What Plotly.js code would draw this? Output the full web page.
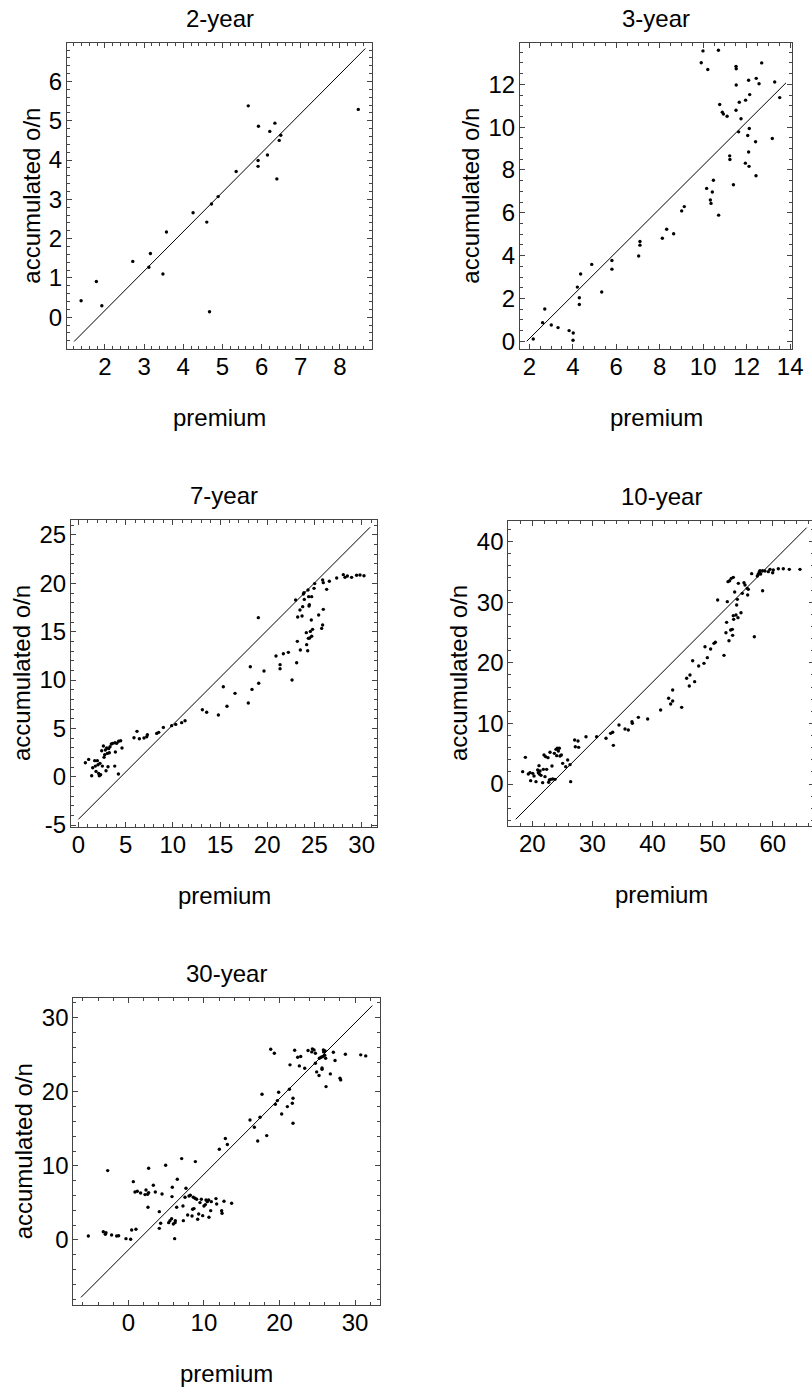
<!DOCTYPE html>
<html>
<head>
<meta charset="utf-8">
<script src="https://cdn.plot.ly/plotly-3.0.1.min.js"></script>
<style>
html,body{margin:0;padding:0;overflow:hidden;background:#fff;}
#chart{width:830px;height:1391px;}
</style>
</head>
<body>
<div id="chart"></div>
<script>
// ---------------- DATA ----------------
const titles = ['2-year', '3-year', '7-year', '10-year', '30-year'];
const xAxisLabel = 'premium';
const yAxisLabel = 'accumulated o/n';

// 2-year
const prem2 = [1.39,1.78,1.92,2.71,3.12,3.16,3.48,3.57,4.25,4.60,4.67,4.72,4.89,5.35,5.66,5.92,5.91,5.91,6.15,6.21,6.34,6.39,6.45,6.49,8.47];
const acc2  = [0.42,0.91,0.29,1.42,1.27,1.62,1.10,2.17,2.66,2.42,0.14,2.88,3.07,3.71,5.38,4.86,3.99,3.84,4.13,4.73,4.94,3.52,4.50,4.63,5.29];
const fit2x = [1.21, 8.65];
const fit2y = [-0.62, 6.84];

// 3-year
const prem3 = [2.18,2.61,2.71,3.01,3.32,3.83,4.02,4.01,4.21,4.30,4.30,4.36,4.87,5.33,5.80,5.80,7.03,7.09,7.09,8.12,8.32,8.64,9.01,9.13,9.91,9.99,10.21,10.16,10.33,10.36,10.42,10.47,10.70,10.71,10.76,10.88,10.93,11.10,11.22,11.23,11.39,11.51,11.52,11.52,11.51,11.63,11.66,11.74,11.95,11.94,12.05,12.09,12.09,12.11,12.12,12.14,12.41,12.43,12.44,12.57,12.69,13.18,13.29,13.52];
const acc3  = [0.11,0.87,1.51,0.76,0.64,0.50,0.39,0.05,2.53,2.03,1.72,3.14,3.59,2.30,3.77,3.37,3.98,4.49,4.66,4.81,5.23,5.02,6.09,6.29,13.01,13.56,12.69,7.14,6.60,6.44,6.97,7.52,13.59,5.89,11.06,10.70,10.61,10.51,8.66,8.49,7.31,12.84,12.73,11.97,10.79,9.78,11.16,10.39,11.26,8.32,9.61,12.19,8.84,8.17,9.94,11.52,9.32,7.73,12.28,12.03,13.00,9.47,12.11,11.38];
const fit3x = [1.88, 13.81];
const fit3y = [0.0, 12.07];

// 7-year
const prem7 = [0.74,1.09,1.41,1.52,1.73,1.80,1.87,2.01,2.08,2.15,2.22,2.29,2.36,2.47,2.54,2.65,2.72,2.79,2.86,2.93,3.00,3.07,3.14,3.21,3.28,3.35,3.49,3.64,3.85,3.88,3.92,4.06,4.24,4.27,4.48,4.62,5.89,6.21,6.46,6.95,7.24,7.31,8.30,8.51,9.00,9.88,10.31,10.94,11.30,13.13,13.59,14.83,15.35,15.74,16.59,18.00,18.21,18.39,19.06,19.10,19.66,20.93,21.36,21.36,21.71,22.24,22.63,23.01,23.12,23.19,23.23,23.47,23.51,23.69,23.76,23.83,23.90,23.93,24.14,24.18,24.29,24.32,24.39,24.43,24.36,24.46,24.50,24.57,24.67,24.71,24.71,24.81,24.96,25.03,25.45,25.77,25.87,25.94,25.87,25.94,26.30,26.58,27.36,28.06,28.24,28.49,28.94,29.47,29.83,30.25];
const acc7  = [1.45,1.79,0.10,0.93,1.66,1.10,0.55,1.66,1.24,0.34,0.10,1.38,0.21,2.69,1.10,3.17,2.00,2.28,2.76,0.62,2.97,2.41,1.03,2.90,2.48,3.10,3.38,3.45,1.10,3.52,2.55,3.45,0.28,3.66,3.72,2.97,4.03,4.69,3.93,4.00,4.14,4.34,4.48,4.59,5.10,5.28,5.41,5.59,5.79,6.93,6.66,6.38,9.31,7.28,8.62,7.62,11.38,9.03,16.45,9.66,10.93,12.48,11.59,11.17,12.72,12.86,10.00,18.28,11.79,14.00,16.52,17.24,13.10,16.62,17.59,18.90,19.03,18.34,14.90,13.66,13.03,19.31,18.62,17.66,14.31,17.79,14.34,15.03,16.21,14.52,18.62,15.24,19.48,19.97,16.72,15.34,15.69,17.31,20.34,20.07,19.38,20.21,20.55,20.90,20.62,20.76,20.62,20.83,20.86,20.79];
const fit7x = [0.0, 30.9];
const fit7y = [-4.41, 25.8];
const tickVals7y = [-5, 0, 5, 10, 15, 20, 25];
const tickText7y = ['-5', '0', '5', '10', '15', '20', '25'];

// 10-year
const prem10 = [18.39,18.84,19.33,19.61,19.72,20.06,20.28,20.61,20.89,21.00,21.11,21.16,21.28,21.44,21.72,21.83,21.94,22.11,22.22,22.38,22.61,22.72,22.83,22.94,23.05,23.27,23.38,23.66,23.77,23.94,24.05,24.16,24.33,24.49,24.60,24.83,25.05,25.55,25.88,26.27,26.38,27.04,27.15,27.60,27.71,28.93,30.70,32.26,33.03,33.37,33.48,34.42,35.42,35.97,36.58,36.64,37.64,39.19,41.35,42.68,43.02,43.35,43.35,44.85,45.68,46.23,46.12,46.68,47.01,47.68,48.56,48.73,49.12,49.67,50.23,50.45,50.84,51.89,52.22,52.33,52.44,52.56,52.72,52.83,53.00,53.11,53.33,53.44,53.28,53.44,53.50,53.67,53.89,54.00,54.11,54.28,54.22,54.72,54.94,55.22,55.39,55.77,55.83,55.94,56.50,56.94,57.44,57.60,57.77,57.88,57.99,58.32,58.32,58.71,59.27,59.55,59.99,60.10,60.93,61.76,62.76,64.54];
const acc10  = [2.04,4.40,1.65,1.87,0.55,1.76,1.32,0.39,2.31,1.87,3.03,1.65,2.15,1.43,0.22,2.42,4.79,1.21,4.51,2.42,4.35,0.28,0.66,5.23,0.77,2.97,0.83,5.06,0.77,5.72,4.68,5.89,5.45,5.89,4.62,4.79,3.41,2.86,3.96,3.19,0.39,7.26,6.16,7.10,6.05,7.81,7.81,7.54,8.36,8.53,6.38,9.74,9.08,8.91,10.29,10.01,11.00,10.73,12.21,14.14,13.20,13.70,15.51,12.65,17.44,17.99,16.17,20.35,16.89,19.47,19.91,22.66,20.85,22.28,23.21,23.38,30.36,21.23,24.97,26.68,30.09,33.39,23.65,33.55,25.41,33.94,24.53,34.10,25.52,27.78,27.17,31.68,27.89,29.54,30.47,33.11,27.45,28.27,31.46,33.22,32.84,32.29,31.19,32.12,34.71,24.31,34.32,34.65,34.98,35.20,34.65,31.90,35.20,35.15,35.04,35.42,34.87,35.31,35.53,35.53,35.42,35.42];
const fit10x = [17.23, 65.65];
const fit10y = [-5.83, 42.3];

// 30-year
const prem30 = [-5.29,-3.31,-3.04,-2.73,-2.96,-2.21,-1.54,-1.28,-0.31,0.31,0.44,0.66,1.01,0.88,1.19,1.63,2.21,2.34,2.56,2.69,2.60,2.69,3.31,3.57,4.10,4.28,4.10,4.46,4.94,5.34,5.51,5.73,5.78,5.82,5.96,6.13,6.18,6.22,6.40,6.48,7.06,7.23,7.28,7.50,7.63,7.85,8.03,8.20,8.43,8.51,8.60,8.69,8.82,8.87,9.04,9.18,9.31,9.48,9.66,9.84,10.01,10.19,10.28,10.45,10.63,10.67,10.90,10.98,11.60,11.69,12.35,12.40,12.04,12.66,12.84,13.10,13.67,16.10,16.67,17.12,17.42,17.69,18.31,18.84,19.32,19.45,19.72,19.89,20.29,21.04,21.31,21.39,21.70,21.79,21.79,22.01,22.41,22.63,22.81,23.34,23.78,24.27,24.35,24.57,24.75,24.75,24.92,25.23,25.28,25.50,25.63,25.63,25.72,25.81,25.85,25.98,26.03,26.11,26.16,26.73,27.13,27.35,28.01,28.10,28.72,30.75,31.41];
const acc30  = [0.54,1.12,0.76,9.36,0.99,0.67,0.54,0.58,0.18,0.09,1.35,7.87,1.44,6.48,6.57,6.34,6.12,6.75,6.16,6.39,4.41,9.67,7.38,6.48,3.82,2.25,1.57,6.21,10.08,2.34,2.61,2.88,5.85,7.11,2.16,0.18,2.34,2.61,4.41,8.19,10.98,4.59,2.61,5.76,6.97,3.37,5.94,6.03,3.24,4.14,5.76,4.23,5.62,10.57,5.49,2.79,3.51,5.04,5.49,3.28,4.59,4.77,5.40,5.17,5.40,3.06,3.96,5.17,5.58,4.86,3.96,3.60,12.24,5.22,13.68,12.87,4.95,16.19,15.20,13.36,16.55,19.66,14.08,25.73,25.19,18.31,18.80,19.93,17.00,17.99,20.33,23.62,18.44,19.12,15.74,25.60,24.65,23.48,24.74,23.17,25.55,25.37,25.78,25.64,25.19,23.84,22.67,22.18,24.52,24.65,23.21,23.03,24.74,25.64,25.37,24.92,25.51,24.52,20.69,22.40,25.33,24.20,21.82,21.59,25.06,24.97,24.83];
const fit30x = [-6.26, 32.29];
const fit30y = [-7.74, 31.62];

// ---------------- LAYOUT (pixel geometry) ----------------
const W = 830, H = 1391;
const FONT = 'Liberation Sans, Arial, Helvetica, sans-serif';
const FS = 24;
const frameColor = '#444';

const panels = [
  {x: prem2,  y: acc2,  fx: fit2x,  fy: fit2y,  px: [67, 372],    py: [43, 349],    xr: [1.03, 8.82],   yr: [-0.81, 6.98], xd: 1,  xm: 0.2, yd: 1, ym: 0.2, ylabX: 39},
  {x: prem3,  y: acc3,  fx: fit3x,  fy: fit3y,  px: [520, 792.3], py: [43, 349],    xr: [1.57, 14.1],   yr: [-0.36, 13.93], xd: 2, xm: 0.5, yd: 2, ym: 0.5, ylabX: 478},
  {x: prem7,  y: acc7,  fx: fit7x,  fy: fit7y,  px: [71, 377.3],  py: [520, 826.7], xr: [-0.78, 31.66], yr: [-5.17, 26.55], xd: 5, xm: 1, yd: 5, ym: 1, ylabX: 30, ytv: tickVals7y, ytt: tickText7y},
  {x: prem10, y: acc10, fx: fit10x, fy: fit10y, px: [508.3, 814], py: [520.7, 826], xr: [16.0, 66.87],  yr: [-6.93, 43.45], xd: 10, xm: 2, yd: 10, ym: 2, ylabX: 467},
  {x: prem30, y: acc30, fx: fit30x, fy: fit30y, px: [73.3, 380],  py: [998.3, 1305], xr: [-7.28, 33.3], yr: [-8.77, 32.6], xd: 10, xm: 2, yd: 10, ym: 2, ylabX: 32}
];

const data = [];
const layout = {
  width: W, height: H,
  margin: {l: 0, r: 0, t: 0, b: 0},
  paper_bgcolor: '#fff', plot_bgcolor: '#fff',
  showlegend: false,
  font: {family: FONT, size: FS, color: '#000'},
  annotations: []
};

panels.forEach((p, i) => {
  const n = i === 0 ? '' : String(i + 1);
  const xa = 'x' + n, ya = 'y' + n;
  data.push({
    x: p.fx, y: p.fy, xaxis: xa, yaxis: ya, type: 'scatter', mode: 'lines',
    line: {color: '#000', width: 1}, hoverinfo: 'skip'
  });
  data.push({
    x: p.x, y: p.y, xaxis: xa, yaxis: ya, type: 'scatter', mode: 'markers',
    marker: {color: '#000', size: 3.4, symbol: 'circle', line: {width: 0}}
  });
  const common = {
    showgrid: false, zeroline: false, showline: true, linecolor: frameColor, linewidth: 1,
    mirror: 'allticks', ticks: 'inside', ticklen: 5, tickwidth: 1, tickcolor: frameColor,
    tickfont: {family: FONT, size: FS, color: '#000'}, fixedrange: true
  };
  layout['xaxis' + n] = Object.assign({}, common, {
    domain: [p.px[0] / W, p.px[1] / W], anchor: ya, range: p.xr,
    tickmode: 'linear', tick0: 0, dtick: p.xd, ticklabelstandoff: -4,
    minor: {ticks: 'inside', ticklen: 3, tickcolor: frameColor, tickwidth: 1, tick0: 0, dtick: p.xm, showgrid: false}
  });
  const yax = Object.assign({}, common, {
    domain: [1 - p.py[1] / H, 1 - p.py[0] / H], anchor: xa, range: p.yr,
    ticklabelstandoff: -1,
    minor: {ticks: 'inside', ticklen: 3, tickcolor: frameColor, tickwidth: 1, tickmode: 'linear', tick0: 0, dtick: p.ym, showgrid: false}
  });
  if (p.ytv) { yax.tickmode = 'array'; yax.tickvals = p.ytv; yax.ticktext = p.ytt; }
  else { yax.tickmode = 'linear'; yax.tick0 = 0; yax.dtick = p.yd; }
  layout['yaxis' + n] = yax;

  const cx = (p.px[0] + p.px[1]) / 2;
  const cy = (p.py[0] + p.py[1]) / 2;
  const off = 0.347 * FS; // baseline -> text box centre
  layout.annotations.push({
    text: titles[i], xref: 'paper', yref: 'paper',
    x: cx / W, y: 1 - (p.py[0] - 16 - off) / H, xanchor: 'center', yanchor: 'middle',
    showarrow: false, font: {family: FONT, size: FS, color: '#000'}
  });
  layout.annotations.push({
    text: xAxisLabel, xref: 'paper', yref: 'paper',
    x: cx / W, y: 1 - (p.py[1] + 77 - off) / H, xanchor: 'center', yanchor: 'middle',
    showarrow: false, font: {family: FONT, size: FS, color: '#000'}
  });
  layout.annotations.push({
    text: yAxisLabel, xref: 'paper', yref: 'paper', textangle: -90,
    x: (p.ylabX - off) / W, y: 1 - cy / H, xanchor: 'center', yanchor: 'middle',
    showarrow: false, font: {family: FONT, size: FS, color: '#000'}
  });
});

Plotly.newPlot('chart', data, layout, {staticPlot: true, displayModeBar: false});
</script>
</body>
</html>
